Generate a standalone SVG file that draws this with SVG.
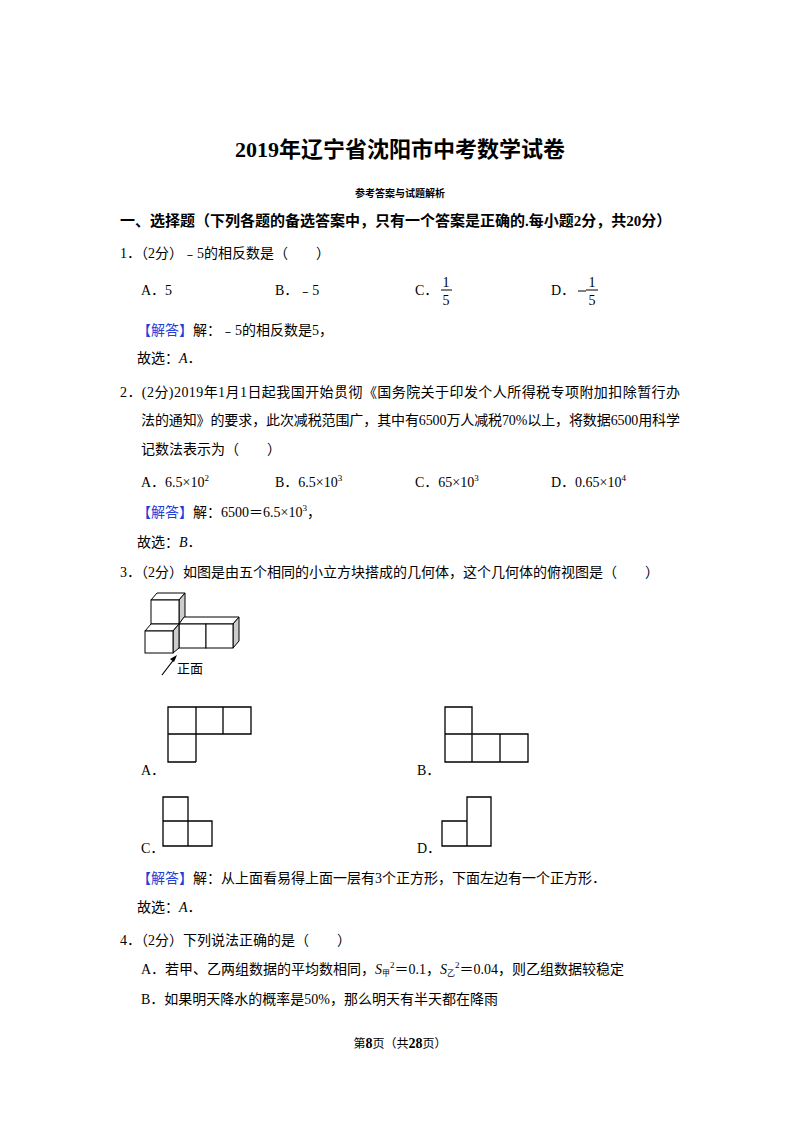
<svg xmlns="http://www.w3.org/2000/svg" width="800" height="1132" viewBox="0 0 800 1132">
<style>
text{font-family:"Liberation Serif","Noto Sans CJK SC",serif;font-size:14px;fill:#000}
.b{font-weight:bold}
.blue{fill:#1f3fd6}
.g{fill:none;stroke:#000;stroke-width:1.3}
.c{fill:#fff;stroke:#000;stroke-width:1}
.s{fill:#ccc;stroke:#000;stroke-width:1}
</style>
<rect width="800" height="1132" fill="#fff"/>
<text x="400" y="157" text-anchor="middle" class="b" style="font-size:22px">2019年辽宁省沈阳市中考数学试卷</text>
<text x="400" y="197" text-anchor="middle" class="b" style="font-size:10px">参考答案与试题解析</text>
<text x="120" y="226" class="b" style="font-size:15px">一、选择题（下列各题的备选答案中，只有一个答案是正确的.每小题2分，共20分）</text>
<text x="120" y="258">1．（2分）﹣5的相反数是（　　）</text>
<text x="141" y="295">A．5</text>
<text x="275" y="295">B．﹣5</text>
<text x="415" y="295">C．</text>
<text x="446" y="287" text-anchor="middle">1</text><line x1="441" y1="290" x2="452" y2="290" stroke="#000"/><text x="446" y="305" text-anchor="middle">5</text>
<text x="551" y="295">D．</text>
<line x1="578" y1="291" x2="586" y2="291" stroke="#000"/>
<text x="592" y="287" text-anchor="middle">1</text><line x1="586" y1="290" x2="598" y2="290" stroke="#000"/><text x="592" y="305" text-anchor="middle">5</text>
<text x="137" y="335"><tspan class="blue">【解答】</tspan>解：﹣5的相反数是5，</text>
<text x="137" y="363">故选：<tspan font-style="italic">A</tspan>．</text>
<text x="120" y="397" textLength="560" lengthAdjust="spacing">2．(2分)2019年1月1日起我国开始贯彻《国务院关于印发个人所得税专项附加扣除暂行办</text>
<text x="141" y="425" textLength="539" lengthAdjust="spacing">法的通知》的要求，此次减税范围广，其中有6500万人减税70%以上，将数据6500用科学</text>
<text x="141" y="454">记数法表示为（　　）</text>
<text x="141" y="487">A．6.5×10<tspan dy="-6" font-size="9">2</tspan></text>
<text x="275" y="487">B．6.5×10<tspan dy="-6" font-size="9">3</tspan></text>
<text x="415" y="487">C．65×10<tspan dy="-6" font-size="9">3</tspan></text>
<text x="551" y="487">D．0.65×10<tspan dy="-6" font-size="9">4</tspan></text>
<text x="137" y="517"><tspan class="blue">【解答】</tspan>解：6500＝6.5×10<tspan dy="-6" font-size="9">3</tspan><tspan dy="6">，</tspan></text>
<text x="137" y="547">故选：<tspan font-style="italic">B</tspan>．</text>
<text x="120" y="577">3．（2分）如图是由五个相同的小立方块搭成的几何体，这个几何体的俯视图是（　　）</text>
<g id="cubes">
<polygon class="c" points="151,600 157,593 185,593 179,600"/>
<polygon class="s" points="179,600 185,593 185,617 179,624"/>
<rect class="c" x="151" y="600" width="28" height="24"/>
<polygon class="c" points="179,624 184,617 239,617 233,624"/>
<polygon class="s" points="233,624 239,617 239,641 233,648"/>
<rect class="c" x="179" y="624" width="27" height="24"/>
<rect class="c" x="206" y="624" width="27" height="24"/>
<polygon class="c" points="145,631 151,624 179,624 173,631"/>
<polygon class="s" points="173,631 179,624 179,648 173,653"/>
<rect class="c" x="145" y="631" width="28" height="22"/>
<line x1="162" y1="675" x2="175" y2="658" stroke="#000" stroke-width="1.2"/>
<polygon points="177,655 170,659 174,662" fill="#000"/>
<text x="177" y="673" style="font-size:13px;font-family:'Noto Sans CJK SC',sans-serif">正面</text>
</g>
<g id="optA" class="g"><path d="M168,707H251V734H168ZM196,707V762M223,707V734M168,734V762H196"/></g>
<text x="141" y="775">A．</text>
<g id="optB" class="g"><path d="M445,734H528V762H445ZM445,734V707H472V762M500,734V762"/></g>
<text x="417" y="775">B．</text>
<g id="optC" class="g"><path d="M163,797H188V846H163ZM163,821H212V846H188"/></g>
<text x="141" y="853">C．</text>
<g id="optD" class="g"><path d="M467,797H491V846H467ZM442,821H467V846H442Z"/></g>
<text x="417" y="853">D．</text>
<text x="137" y="883"><tspan class="blue">【解答】</tspan>解：从上面看易得上面一层有3个正方形，下面左边有一个正方形．</text>
<text x="137" y="912">故选：<tspan font-style="italic">A</tspan>．</text>
<text x="120" y="945">4．（2分）下列说法正确的是（　　）</text>
<text x="141" y="974">A．若甲、乙两组数据的平均数相同，<tspan font-style="italic">S</tspan><tspan font-size="8" dy="2">甲</tspan><tspan font-size="9" dy="-8">2</tspan><tspan dy="6">＝0.1，</tspan><tspan font-style="italic">S</tspan><tspan font-size="8" dy="2">乙</tspan><tspan font-size="9" dy="-8">2</tspan><tspan dy="6">＝0.04，则乙组数据较稳定</tspan></text>
<text x="141" y="1004">B．如果明天降水的概率是50%，那么明天有半天都在降雨</text>
<text x="400" y="1048" text-anchor="middle" style="font-size:12px">第<tspan class="b" font-size="14">8</tspan>页（共<tspan class="b" font-size="14">28</tspan>页）</text>
</svg>
